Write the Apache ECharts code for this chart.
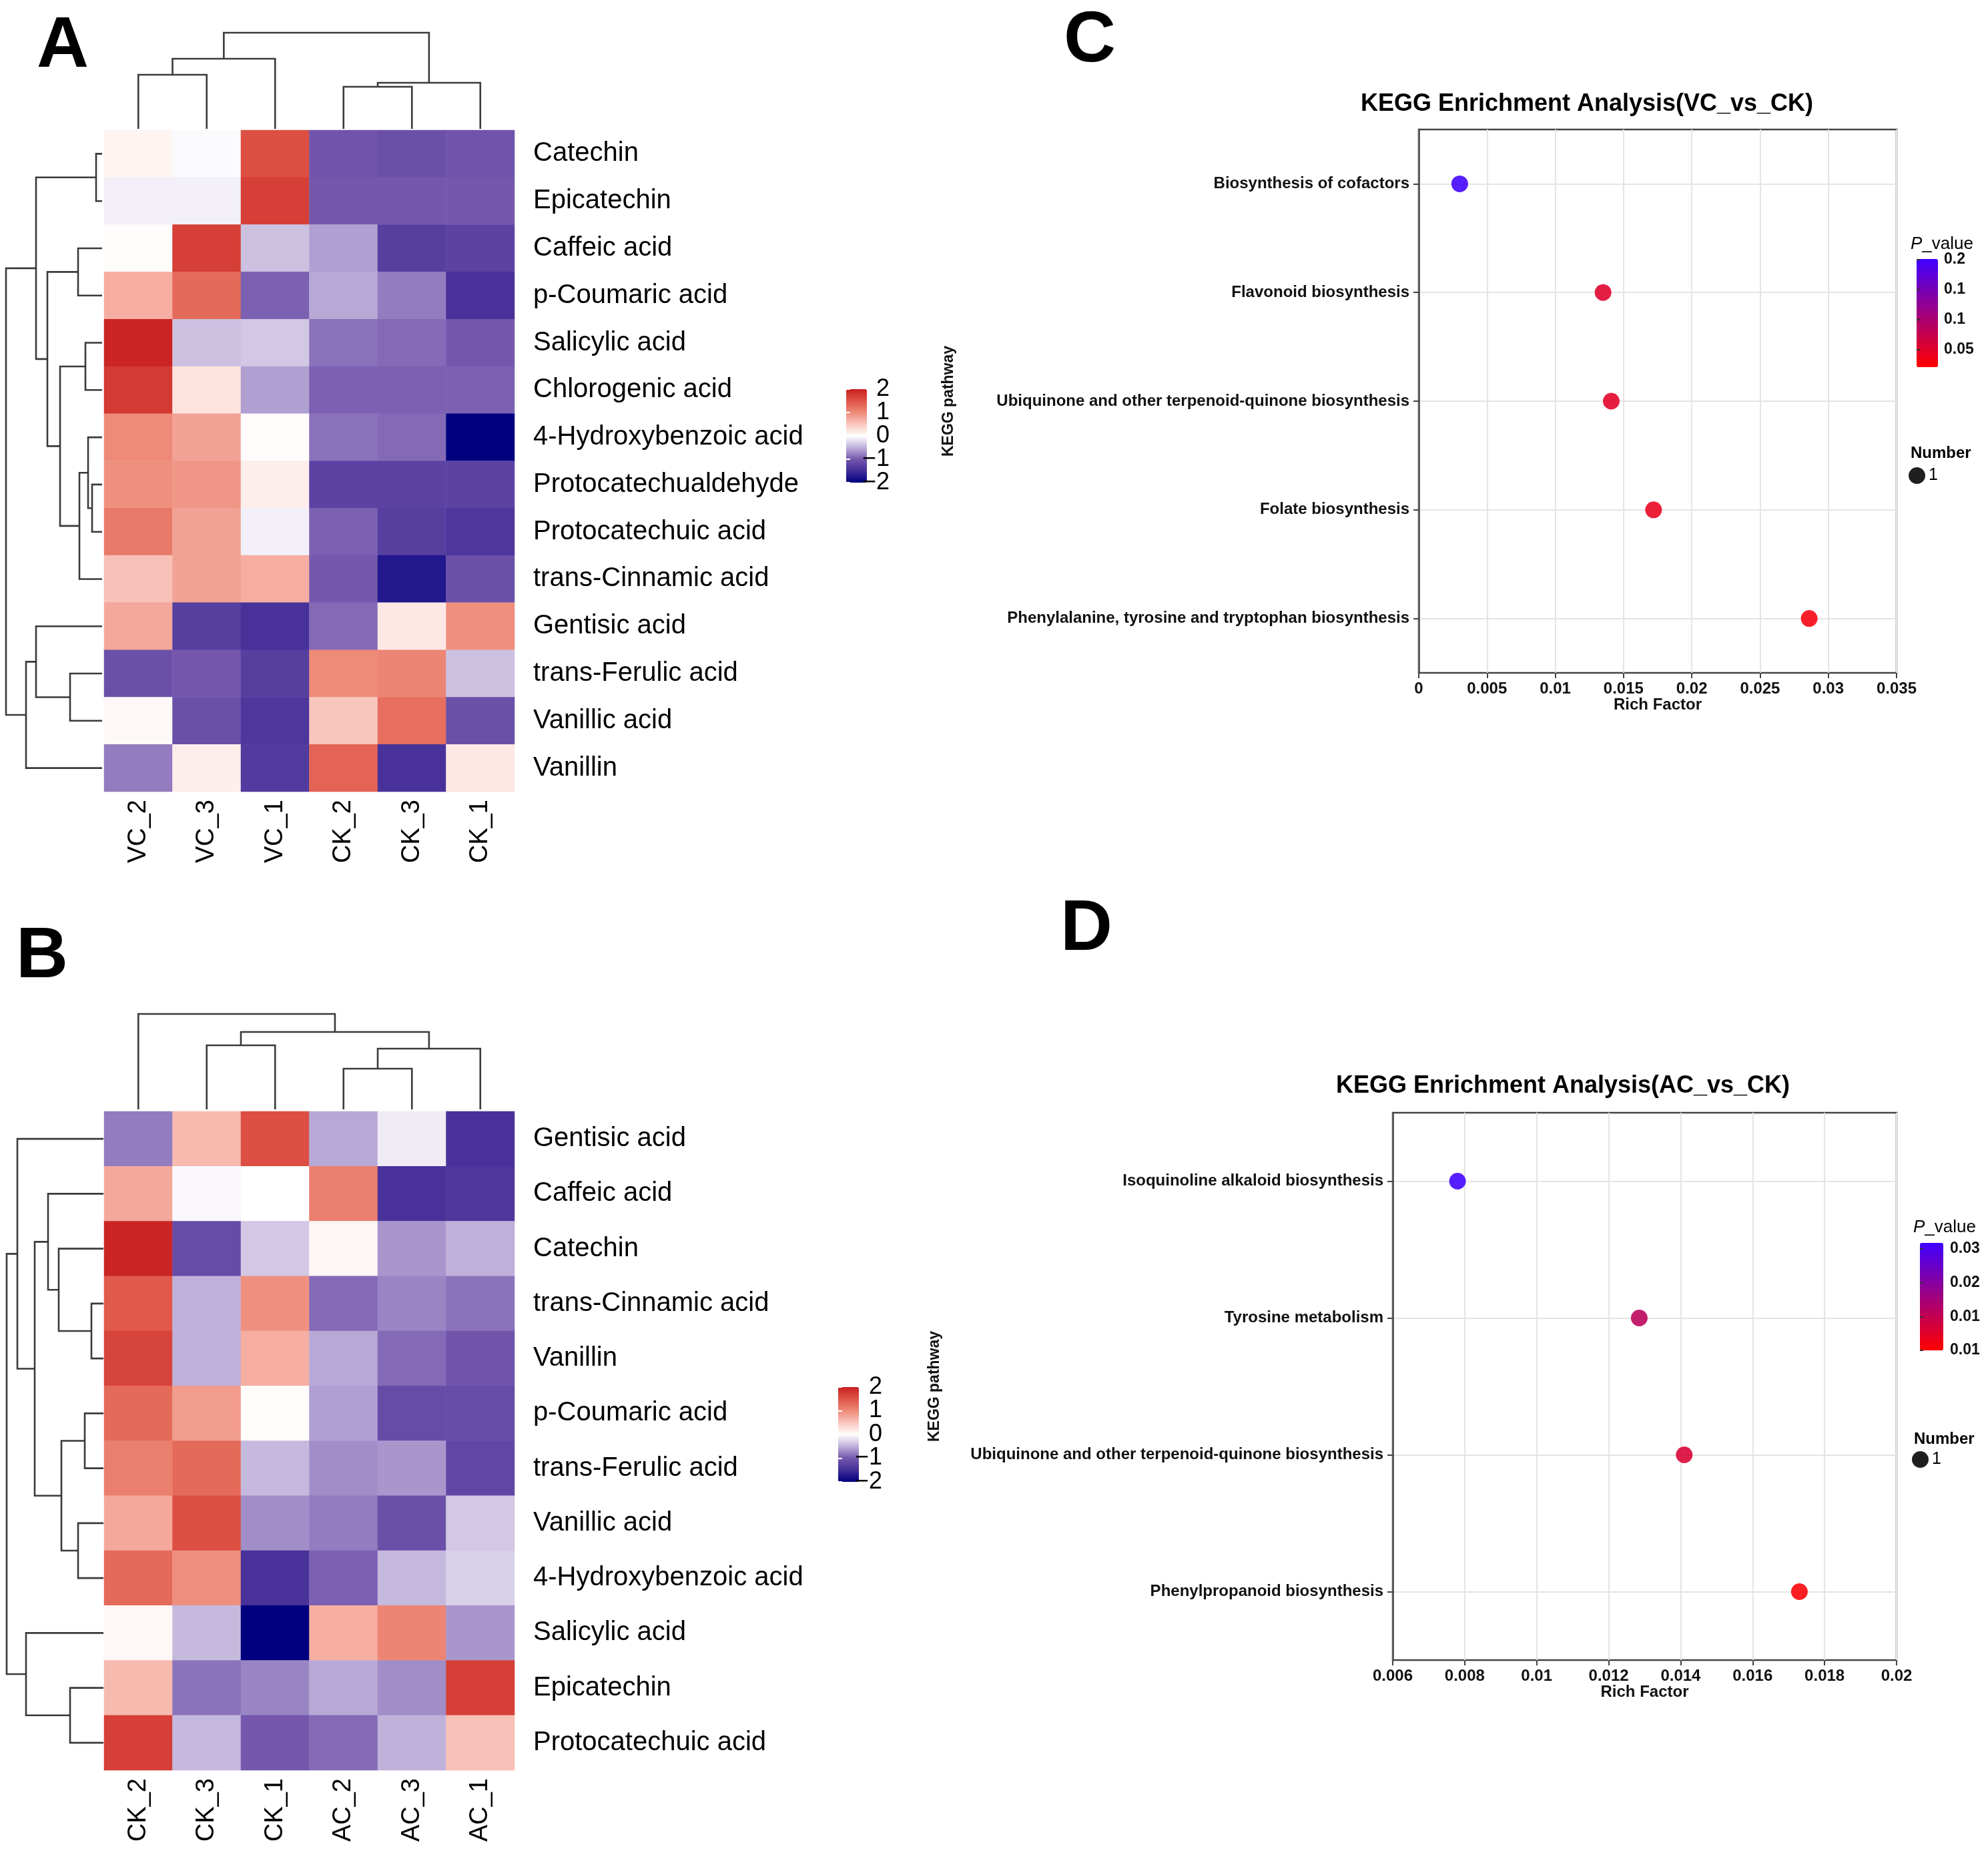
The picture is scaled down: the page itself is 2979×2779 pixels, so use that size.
<!DOCTYPE html>
<html>
<head>
<meta charset="utf-8">
<script src="https://cdn.jsdelivr.net/npm/echarts@6/dist/echarts.min.js"></script>
<style>
html,body{margin:0;padding:0;background:#fff;}
#main{width:2979px;height:2779px;}
</style>
</head>
<body>
<div id="main"></div>
<script>
// ---------------- DATA ----------------
const colsA = ['VC_2','VC_3','VC_1','CK_2','CK_3','CK_1'];
const rowsA = ['Catechin','Epicatechin','Caffeic acid','p-Coumaric acid','Salicylic acid','Chlorogenic acid','4-Hydroxybenzoic acid','Protocatechualdehyde','Protocatechuic acid','trans-Cinnamic acid','Gentisic acid','trans-Ferulic acid','Vanillic acid','Vanillin'];
const valuesA = [
  [0.10,-0.03, 1.55,-1.05,-1.10,-1.05],
  [-0.10,-0.10, 1.70,-1.00,-1.00,-1.00],
  [0.02, 1.70,-0.40,-0.60,-1.30,-1.25],
  [0.70, 1.30,-0.95,-0.55,-0.80,-1.45],
  [1.95,-0.40,-0.35,-0.85,-0.90,-1.00],
  [1.75, 0.25,-0.60,-0.95,-0.95,-0.95],
  [1.00, 0.80, 0.03,-0.85,-0.90,-2.00],
  [0.95, 0.90, 0.15,-1.25,-1.25,-1.25],
  [1.15, 0.80,-0.10,-0.95,-1.30,-1.40],
  [0.55, 0.80, 0.70,-1.00,-1.75,-1.10],
  [0.75,-1.30,-1.45,-0.90, 0.20, 0.95],
  [-1.10,-1.00,-1.30, 1.00, 1.05,-0.40],
  [0.05,-1.10,-1.40, 0.50, 1.25,-1.10],
  [-0.80, 0.15,-1.35, 1.35,-1.45, 0.20]
];
const colsB = ['CK_2','CK_3','CK_1','AC_2','AC_3','AC_1'];
const rowsB = ['Gentisic acid','Caffeic acid','Catechin','trans-Cinnamic acid','Vanillin','p-Coumaric acid','trans-Ferulic acid','Vanillic acid','4-Hydroxybenzoic acid','Salicylic acid','Epicatechin','Protocatechuic acid'];
const valuesB = [
  [-0.80, 0.60, 1.55,-0.55,-0.12,-1.45],
  [0.75,-0.05, 0.00, 1.10,-1.45,-1.40],
  [1.95,-1.15,-0.35, 0.08,-0.65,-0.50],
  [1.45,-0.50, 0.95,-0.90,-0.75,-0.85],
  [1.65,-0.50, 0.70,-0.55,-0.90,-1.05],
  [1.30, 0.85, 0.03,-0.60,-1.15,-1.15],
  [1.10, 1.30,-0.45,-0.70,-0.65,-1.20],
  [0.75, 1.55,-0.70,-0.80,-1.10,-0.35],
  [1.30, 0.95,-1.45,-0.95,-0.45,-0.30],
  [0.06,-0.45,-2.00, 0.70, 1.05,-0.65],
  [0.60,-0.85,-0.75,-0.55,-0.70, 1.70],
  [1.70,-0.45,-1.00,-0.90,-0.50, 0.55]
];
// dendrogram merges: [left, right, height]; negative = leaf (1-based), positive = earlier merge (1-based)
const colTreeA = [[-1,-2,81],[1,-3,105],[-4,-5,63],[3,-6,69],[2,4,144]];
const rowTreeA = [[-1,-2,9],[-3,-4,36],[-5,-6,25],[-8,-9,15],[-7,4,21],[5,-10,34],[3,6,63],[2,7,82],[1,8,99],[-12,-13,48],[-11,10,99],[11,-14,114],[9,12,144]];
const colTreeB = [[-2,-3,96],[-4,-5,61],[2,-6,91],[1,3,116],[-1,4,143]];
const rowTreeB = [[-4,-5,18],[-3,1,67],[-2,2,83],[-6,-7,28],[-8,-9,38],[4,5,63],[3,6,103],[-1,7,129],[-11,-12,50],[-10,9,116],[8,10,145]];
const heatTickLabels = ['\u22122','\u22121','0','1','2'];

const pathwaysC = ['Biosynthesis of cofactors','Flavonoid biosynthesis','Ubiquinone and other terpenoid-quinone biosynthesis','Folate biosynthesis','Phenylalanine, tyrosine and tryptophan biosynthesis'];
const richC = [0.0030, 0.0135, 0.0141, 0.0172, 0.0286];
const pC = [0.19, 0.048, 0.046, 0.040, 0.028];
const cPTicks = [0.048, 0.095, 0.142, 0.189];
const cPLabels = ['0.05','0.1','0.1','0.2'];

const pathwaysD = ['Isoquinoline alkaloid biosynthesis','Tyrosine metabolism','Ubiquinone and other terpenoid-quinone biosynthesis','Phenylpropanoid biosynthesis'];
const richD = [0.0078, 0.01285, 0.0141, 0.0173];
const pD = [0.0285, 0.0155, 0.0125, 0.0088];
const dPTicks = [0.0085, 0.0148, 0.0211, 0.0274];
const dPLabels = ['0.01','0.01','0.02','0.03'];
const numberC = [1,1,1,1,1];
const numberD = [1,1,1,1];

// ---------------- STYLE ----------------
const SANS = '"Liberation Sans", Arial, Helvetica, sans-serif';
const heatColors = ['#00007F','#432E98','#7558AD','#BFB1DA','#FFFFFF','#F9C6BD','#EE8A78','#DE5446','#C81F20'];
const pColors = ['#FF0000','#4000FF'];
const DENDRO = '#3a3a3a';

function heatData(vals){
  const out=[];
  vals.forEach((row,r)=>row.forEach((v,c)=>out.push([c,r,v])));
  return out;
}
function dendroItems(tree){
  const pos=[],hts=[];
  const get=k=>k<0?{p:-k-0.5,h:0}:{p:pos[k-1],h:hts[k-1]};
  return tree.map((m,i)=>{
    const a=get(m[0]), b=get(m[1]);
    pos[i]=(a.p+b.p)/2; hts[i]=m[2];
    return [a.p,a.h,b.p,b.h,m[2]];
  });
}
function renderTop(params, api){
  const pL=api.value(0),hL=api.value(1),pR=api.value(2),hR=api.value(3),h=api.value(4);
  return {type:'polyline',shape:{points:[api.coord([pL,hL]),api.coord([pL,h]),api.coord([pR,h]),api.coord([pR,hR])]},
    style:{stroke:DENDRO,lineWidth:2.6,fill:null}};
}
function renderLeft(params, api){
  const pL=api.value(0),hL=api.value(1),pR=api.value(2),hR=api.value(3),h=api.value(4);
  return {type:'polyline',shape:{points:[api.coord([hL,pL]),api.coord([h,pL]),api.coord([h,pR]),api.coord([hR,pR])]},
    style:{stroke:DENDRO,lineWidth:2.6,fill:null}};
}
function nearestLabel(v, ticks, labels){
  let bi=0,bd=Infinity;
  ticks.forEach((t,i)=>{const d=Math.abs(t-v); if(d<bd){bd=d;bi=i;}});
  return labels[bi];
}
const hidden = (g,extra)=>Object.assign({gridIndex:g,type:'value',show:false},extra||{});

const axisDark = {lineStyle:{color:'#444',width:2.5}};
const tickDark = {show:true,length:8,lineStyle:{color:'#444',width:2}};
const gridLine = {show:true,lineStyle:{color:'#e4e4e4',width:2}};
const bold = (s)=>({fontSize:s,fontWeight:'bold',fontFamily:SANS,color:'#111'});

const grids = [
  {left:156, top:195, width:615, height:991},   //0 heatmap A
  {left:156, top:1665, width:615, height:987},  //1 heatmap B
  {left:156, top:49, width:615, height:144},    //2 top dendro A
  {left:9, top:195, width:144, height:991},     //3 left dendro A
  {left:156, top:1519, width:615, height:143},  //4 top dendro B
  {left:10, top:1665, width:145, height:987},   //5 left dendro B
  {left:2126, top:194, width:716, height:814, show:true, borderColor:'#444', borderWidth:2.5}, //6 C
  {left:2087, top:1667, width:755, height:820, show:true, borderColor:'#444', borderWidth:2.5}, //7 D
  {left:1268, top:583, width:31, height:140},   //8 colorbar A
  {left:1256, top:2078, width:31, height:142},  //9 colorbar B
  {left:2872, top:388, width:32, height:162},   //10 colorbar C
  {left:2877, top:1862, width:35, height:161}   //11 colorbar D
];

const heatX = (g,cols)=>({gridIndex:g,type:'category',data:cols,position:'bottom',
  axisLine:{show:false},axisTick:{show:false},splitLine:{show:false},
  axisLabel:{rotate:90,fontSize:38,margin:12,color:'#000',fontFamily:SANS}});
const heatY = (g,rows)=>({gridIndex:g,type:'category',data:rows,inverse:true,position:'right',
  axisLine:{show:false},axisTick:{show:false},splitLine:{show:false},
  axisLabel:{fontSize:40,margin:28,color:'#000',fontFamily:SANS}});

const cbAxisMain = (g,margin)=>({gridIndex:g,type:'category',data:heatTickLabels,boundaryGap:false,position:'right',z:10,
  axisLine:{show:false},splitLine:{show:false},
  axisTick:{show:true,inside:true,interval:0,length:6,lineStyle:{color:'#fff',width:2}},
  axisLabel:{fontSize:36,color:'#000',fontFamily:SANS,align:'right',margin:margin,interval:0,hideOverlap:false}});
const cbAxisLeft = (g)=>({gridIndex:g,type:'category',data:heatTickLabels,boundaryGap:false,position:'left',z:10,
  axisLine:{show:false},splitLine:{show:false},axisLabel:{show:false},
  axisTick:{show:true,inside:true,interval:0,length:6,lineStyle:{color:'#fff',width:2}}});
const pAxis = (g,min,max,ticks,labels,margin)=>({gridIndex:g,type:'value',min:min,max:max,position:'right',z:10,
  axisLine:{show:false},splitLine:{show:false},
  axisTick:{show:true,customValues:ticks,length:5,lineStyle:{color:'#333',width:2}},
  axisLabel:Object.assign({customValues:ticks,margin:margin,formatter:v=>nearestLabel(v,ticks,labels)},bold(23))});

const xAxes = [
  heatX(0,colsA), heatX(1,colsB),
  hidden(2,{min:0,max:6}), hidden(3,{min:0,max:144,inverse:true}),
  hidden(4,{min:0,max:6}), hidden(5,{min:0,max:145,inverse:true}),
  {gridIndex:6,type:'value',min:0,max:0.035,interval:0.005,name:'Rich Factor',nameLocation:'middle',nameGap:36,nameMoveOverlap:false,
    nameTextStyle:bold(24),axisLine:axisDark,axisTick:tickDark,splitLine:gridLine,
    axisLabel:Object.assign({margin:12,showMinLabel:true,showMaxLabel:true},bold(24))},
  {gridIndex:7,type:'value',min:0.006,max:0.02,interval:0.002,name:'Rich Factor',nameLocation:'middle',nameGap:36,nameMoveOverlap:false,
    nameTextStyle:bold(24),axisLine:axisDark,axisTick:tickDark,splitLine:gridLine,
    axisLabel:Object.assign({margin:12,showMinLabel:true,showMaxLabel:true},bold(24))},
  hidden(8),hidden(9),hidden(10),hidden(11)
];
const yAxes = [
  heatY(0,rowsA), heatY(1,rowsB),
  hidden(2,{min:0,max:144}), hidden(3,{min:0,max:14,inverse:true}),
  hidden(4,{min:0,max:143}), hidden(5,{min:0,max:12,inverse:true}),
  {gridIndex:6,type:'category',data:pathwaysC,inverse:true,name:'KEGG pathway',nameLocation:'middle',nameRotate:90,nameGap:693,nameMoveOverlap:false,
    nameTextStyle:bold(23),axisLine:axisDark,axisTick:Object.assign({alignWithLabel:true},tickDark),
    splitLine:Object.assign({alignWithLabel:true},gridLine),axisLabel:Object.assign({margin:14},bold(24))},
  {gridIndex:7,type:'category',data:pathwaysD,inverse:true,name:'KEGG pathway',nameLocation:'middle',nameRotate:90,nameGap:675,nameMoveOverlap:false,
    nameTextStyle:bold(23),axisLine:axisDark,axisTick:Object.assign({alignWithLabel:true},tickDark),
    splitLine:Object.assign({alignWithLabel:true},gridLine),axisLabel:Object.assign({margin:14},bold(24))},
  cbAxisMain(8,34), cbAxisMain(9,35),
  pAxis(10,0.02,0.19,cPTicks,cPLabels,9),
  pAxis(11,0.0085,0.0285,dPTicks,dPLabels,10),
  cbAxisLeft(8), cbAxisLeft(9)
];

const series = [
  {type:'heatmap',xAxisIndex:0,yAxisIndex:0,data:heatData(valuesA),itemStyle:{borderWidth:0}},
  {type:'heatmap',xAxisIndex:1,yAxisIndex:1,data:heatData(valuesB),itemStyle:{borderWidth:0}},
  {type:'custom',xAxisIndex:2,yAxisIndex:2,renderItem:renderTop,data:dendroItems(colTreeA),encode:{x:[0,2],y:[1,3,4]},silent:true},
  {type:'custom',xAxisIndex:3,yAxisIndex:3,renderItem:renderLeft,data:dendroItems(rowTreeA),encode:{x:[1,3,4],y:[0,2]},silent:true},
  {type:'custom',xAxisIndex:4,yAxisIndex:4,renderItem:renderTop,data:dendroItems(colTreeB),encode:{x:[0,2],y:[1,3,4]},silent:true},
  {type:'custom',xAxisIndex:5,yAxisIndex:5,renderItem:renderLeft,data:dendroItems(rowTreeB),encode:{x:[1,3,4],y:[0,2]},silent:true},
  {type:'scatter',name:'1',xAxisIndex:6,yAxisIndex:6,symbolSize:25,itemStyle:{opacity:0.88},
    data:pathwaysC.map((n,i)=>[richC[i],n,pC[i],numberC[i]])},
  {type:'scatter',name:'1',xAxisIndex:7,yAxisIndex:7,symbolSize:25,itemStyle:{opacity:0.88},
    data:pathwaysD.map((n,i)=>[richD[i],n,pD[i],numberD[i]])}
];

const vmBase = {type:'continuous',orient:'vertical',calculable:false,padding:0,hoverLink:false};
const visualMaps = [
  Object.assign({},vmBase,{seriesIndex:0,dimension:2,min:-2,max:2,inRange:{color:heatColors},left:1268,top:583,itemWidth:31,itemHeight:140}),
  Object.assign({},vmBase,{seriesIndex:1,dimension:2,min:-2,max:2,inRange:{color:heatColors},left:1256,top:2078,itemWidth:31,itemHeight:142}),
  Object.assign({},vmBase,{seriesIndex:6,dimension:2,min:0.02,max:0.19,inRange:{color:pColors},left:2872,top:388,itemWidth:32,itemHeight:162}),
  Object.assign({},vmBase,{seriesIndex:7,dimension:2,min:0.0085,max:0.0285,inRange:{color:pColors},left:2877,top:1862,itemWidth:35,itemHeight:161})
];

const legendBase = {selectedMode:false,padding:0,itemWidth:25,itemHeight:25,orient:'vertical',
  textStyle:{fontSize:25,fontFamily:SANS,color:'#000'},
  data:[{name:'1',icon:'circle',itemStyle:{color:'#000'}}]};
const legends = [
  Object.assign({},legendBase,{left:2860,top:700}),
  Object.assign({},legendBase,{left:2865,top:2174})
];

const txt = (x,y,text,size,weight,align,extra)=>({type:'text',x:x,y:y,silent:true,
  style:Object.assign({text:text,fontSize:size,fontWeight:weight,fontFamily:SANS,fill:'#000',align:align||'left',verticalAlign:'middle'},extra||{})});
const italicP = {rich:{i:{fontStyle:'italic',fontSize:26,fontFamily:SANS}}};
const graphics = [
  txt(55,70,'A',108,'bold'),
  txt(24,1434,'B',108,'bold'),
  txt(1594,62,'C',108,'bold'),
  txt(1589,1393,'D',108,'bold'),
  txt(2378,156,'KEGG Enrichment Analysis(VC_vs_CK)',36,'bold','center'),
  txt(2342,1627,'KEGG Enrichment Analysis(AC_vs_CK)',36,'bold','center'),
  txt(2863,366,'{i|P}_value',26,'normal','left',italicP),
  txt(2863,679,'Number',24,'bold'),
  txt(2867,1839,'{i|P}_value',26,'normal','left',italicP),
  txt(2868,2156,'Number',24,'bold')
];

const chart = echarts.init(document.getElementById('main'), null, {renderer:'canvas'});
chart.setOption({
  animation:false,
  backgroundColor:'#fff',
  grid:grids,
  xAxis:xAxes,
  yAxis:yAxes,
  visualMap:visualMaps,
  legend:legends,
  series:series,
  graphic:graphics
});
</script>
</body>
</html>
